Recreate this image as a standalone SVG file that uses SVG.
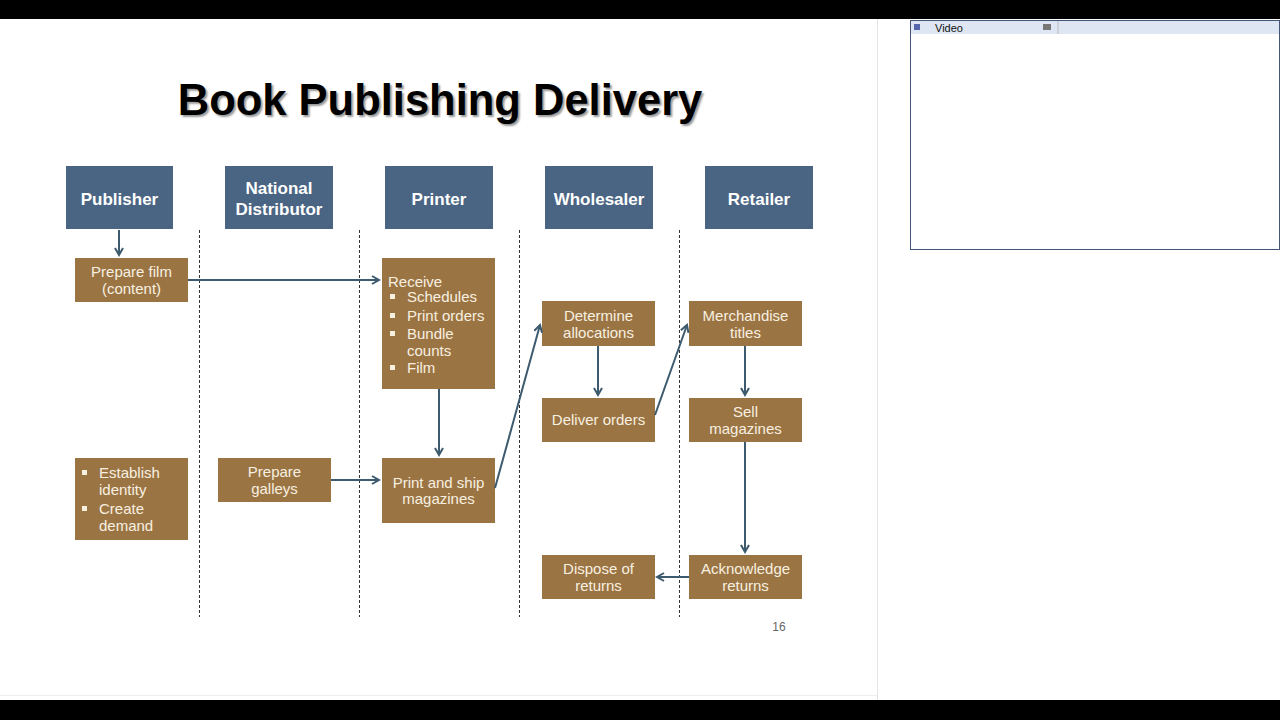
<svg xmlns="http://www.w3.org/2000/svg" width="1280" height="720" viewBox="0 0 1280 720">
<style>
.h{fill:#4a6583}
.b{fill:#9b7443}
.q{fill:#f7f0e0}
.ht{font-family:"Liberation Sans",Arial,sans-serif;font-weight:bold;font-size:17px;fill:#fff;text-anchor:middle}
.bt{font-family:"Liberation Sans",Arial,sans-serif;font-size:15px;fill:#f7f0e0;text-anchor:middle}
.bl{font-family:"Liberation Sans",Arial,sans-serif;font-size:15px;fill:#f7f0e0}
.d{stroke:#333;stroke-width:1;stroke-dasharray:3,2}
.c{stroke:#3d5a6e;stroke-width:2;fill:none;marker-end:url(#a)}
</style>
<defs><marker id="a" markerWidth="10" markerHeight="10" refX="8" refY="5" orient="auto" markerUnits="userSpaceOnUse"><path d="M1,1 L8,5 L1,9" fill="none" stroke="#3d5a6e" stroke-width="2"/></marker></defs>
<rect width="1280" height="720" fill="#fff"/>
<rect x="0" y="0" width="1280" height="19" fill="#000"/>
<rect x="0" y="700" width="1280" height="20" fill="#000"/>
<line x1="877.5" y1="19" x2="877.5" y2="700" stroke="#e4e4e4"/>
<line x1="0" y1="695.5" x2="877" y2="695.5" stroke="#eee"/>
<g id="video">
<rect x="910.5" y="20.5" width="369" height="229" fill="#fff" stroke="#445577"/>
<rect x="911" y="21" width="368" height="13" fill="#dde6f2"/>
<rect x="914" y="24" width="6" height="6" fill="#5566aa"/>
<text x="935" y="31.5" font-family="Liberation Sans,Arial,sans-serif" font-size="11" fill="#111">Video</text>
<rect x="1043" y="24" width="8" height="6" fill="#777"/>
<line x1="1058" y1="21" x2="1058" y2="34" stroke="#bbb"/>
</g>
<text x="440" y="115" font-family="Liberation Sans,Arial,sans-serif" font-weight="bold" font-size="43.5" text-anchor="middle" fill="#000" style="text-shadow:2px 2px 2px #999">Book Publishing Delivery</text>
<g id="lanes">
<line class="d" x1="199.5" y1="230" x2="199.5" y2="617"/>
<line class="d" x1="359.5" y1="230" x2="359.5" y2="617"/>
<line class="d" x1="519.5" y1="230" x2="519.5" y2="617"/>
<line class="d" x1="679.5" y1="230" x2="679.5" y2="617"/>
</g>
<g id="publisher"><rect class="h" x="66" y="166" width="107" height="63"/><text class="ht" x="119.5" y="205">Publisher</text></g>
<g id="distributor"><rect class="h" x="225" y="166" width="108" height="63"/><text class="ht" x="279" y="194">National</text><text class="ht" x="279" y="215">Distributor</text></g>
<g id="printer"><rect class="h" x="385" y="166" width="108" height="63"/><text class="ht" x="439" y="205">Printer</text></g>
<g id="wholesaler"><rect class="h" x="545" y="166" width="108" height="63"/><text class="ht" x="599" y="205">Wholesaler</text></g>
<g id="retailer"><rect class="h" x="705" y="166" width="108" height="63"/><text class="ht" x="759" y="205">Retailer</text></g>
<g id="prepfilm"><rect class="b" x="75" y="258" width="113" height="44"/><text class="bt" x="131.5" y="277">Prepare film</text><text class="bt" x="131.5" y="294">(content)</text></g>
<g id="receive"><rect class="b" x="382" y="258" width="113" height="131"/>
<text class="bl" x="388" y="287">Receive</text>
<rect class="q" x="390" y="294" width="5" height="5"/><text class="bl" x="407" y="302">Schedules</text>
<rect class="q" x="390" y="313" width="5" height="5"/><text class="bl" x="407" y="321">Print orders</text>
<rect class="q" x="390" y="331" width="5" height="5"/><text class="bl" x="407" y="339">Bundle</text>
<text class="bl" x="407" y="356">counts</text>
<rect class="q" x="390" y="365" width="5" height="5"/><text class="bl" x="407" y="373">Film</text></g>
<g id="establish"><rect class="b" x="75" y="458" width="113" height="82"/>
<rect class="q" x="82" y="470" width="5" height="5"/><text class="bl" x="99" y="478">Establish</text>
<text class="bl" x="99" y="495">identity</text>
<rect class="q" x="82" y="506" width="5" height="5"/><text class="bl" x="99" y="514">Create</text>
<text class="bl" x="99" y="531">demand</text></g>
<g id="galleys"><rect class="b" x="218" y="458" width="113" height="44"/><text class="bt" x="274.5" y="477">Prepare</text><text class="bt" x="274.5" y="494">galleys</text></g>
<g id="printship"><rect class="b" x="382" y="458" width="113" height="65"/><text class="bt" x="438.5" y="488">Print and ship</text><text class="bt" x="438.5" y="504">magazines</text></g>
<g id="determine"><rect class="b" x="542" y="301" width="113" height="45"/><text class="bt" x="598.5" y="321">Determine</text><text class="bt" x="598.5" y="338">allocations</text></g>
<g id="deliver"><rect class="b" x="542" y="398" width="113" height="44"/><text class="bt" x="598.5" y="425">Deliver orders</text></g>
<g id="dispose"><rect class="b" x="542" y="555" width="113" height="44"/><text class="bt" x="598.5" y="574">Dispose of</text><text class="bt" x="598.5" y="591">returns</text></g>
<g id="merch"><rect class="b" x="689" y="301" width="113" height="45"/><text class="bt" x="745.5" y="321">Merchandise</text><text class="bt" x="745.5" y="338">titles</text></g>
<g id="sell"><rect class="b" x="689" y="398" width="113" height="44"/><text class="bt" x="745.5" y="417">Sell</text><text class="bt" x="745.5" y="434">magazines</text></g>
<g id="ack"><rect class="b" x="689" y="555" width="113" height="44"/><text class="bt" x="745.5" y="574">Acknowledge</text><text class="bt" x="745.5" y="591">returns</text></g>
<g id="connectors">
<path class="c" d="M119,230 L119,255"/>
<path class="c" d="M188,280 L379,280"/>
<path class="c" d="M439,389 L439,455"/>
<path class="c" d="M331,480 L379,480"/>
<path class="c" d="M495,488 L540,325"/>
<path class="c" d="M598,346 L598,395"/>
<path class="c" d="M655,415 L687,325"/>
<path class="c" d="M745,346 L745,395"/>
<path class="c" d="M745,442 L745,552"/>
<path class="c" d="M689,577 L657,577"/>
</g>
<text x="779" y="631" font-family="Liberation Sans,Arial,sans-serif" font-size="12" fill="#666" text-anchor="middle">16</text>
</svg>
